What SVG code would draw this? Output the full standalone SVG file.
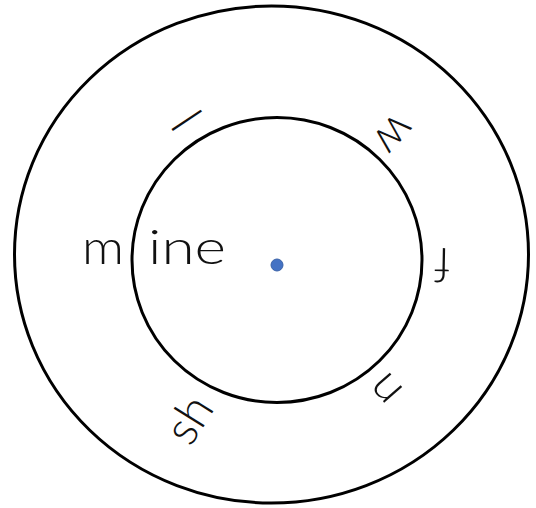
<svg xmlns="http://www.w3.org/2000/svg" width="536" height="508" viewBox="0 0 536 508">
<style>
.ring{fill:none;stroke:#000;stroke-width:3}
.t{font-family:Lato,"Liberation Sans",Arial,sans-serif;font-weight:300;font-size:48px;fill:#111;text-anchor:middle}
.w{font-family:Lato,"Liberation Sans",Arial,sans-serif;font-weight:300;font-size:48px;fill:#111}
</style>
<rect width="536" height="508" fill="#fff"/>
<g id="outer-ring"><ellipse class="ring" cx="271.5" cy="254.5" rx="257" ry="248.5"/></g>
<g id="inner-ring"><ellipse class="ring" cx="277" cy="260" rx="145" ry="142.5"/></g>
<g id="center-dot"><circle cx="277" cy="265" r="6" fill="#4472c4" stroke="#3a62a8" stroke-width="1"/></g>
<g id="word-mine">
<text class="w" x="82" y="264" textLength="42" lengthAdjust="spacingAndGlyphs">m</text>
<text class="w" x="148" y="264" textLength="78" lengthAdjust="spacingAndGlyphs">ine</text>
</g>
<g id="letter-l"><text class="t" transform="translate(185.5,121) rotate(56.5)" y="16">l</text></g>
<g id="letter-w"><text class="t" transform="translate(392,133) rotate(132)" y="12">w</text></g>
<g id="letter-f"><text class="t" transform="translate(442,264) rotate(181)" y="16">f</text></g>
<g id="letter-n"><text class="t" transform="translate(387,388) rotate(229)" y="12">n</text></g>
<g id="letters-sh"><text class="t" transform="translate(190,420) rotate(-58)" y="15">sh</text></g>
</svg>
